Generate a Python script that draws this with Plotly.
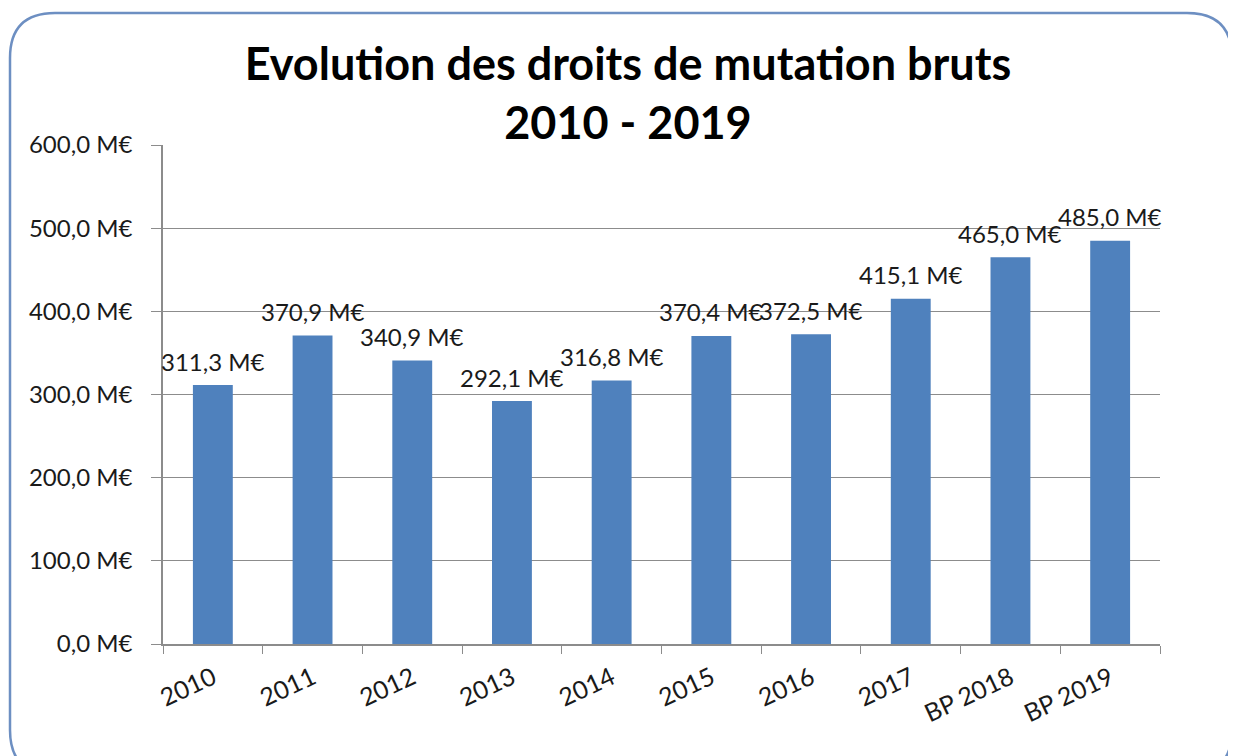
import plotly.graph_objects as go

categories = ["2010", "2011", "2012", "2013", "2014", "2015", "2016", "2017", "BP 2018", "BP 2019"]
values = [311.3, 370.9, 340.9, 292.1, 316.8, 370.4, 372.5, 415.1, 465.0, 485.0]
y_ticks = [0, 100, 200, 300, 400, 500, 600]
y_ticktext = [f"{v:.1f}".replace(".", ",") + " M€" for v in y_ticks]
value_labels = [f"{v:.1f}".replace(".", ",") + " M€" for v in values]

OFF = 8  # page body margin
W, H = 1236 - OFF, 756 - OFF
L, R, T, B = 163 - OFF, 1160 - OFF, 145 - OFF, 644 - OFF
pw, ph = R - L, B - T

def px(x):
    return (x - OFF - L) / pw

def py(y):
    return (B - (y - OFF)) / ph

FONT = "Lato, 'Open Sans', sans-serif"
TXT = "#1a1a1a"

fig = go.Figure(go.Bar(
    x=categories, y=values,
    marker=dict(color="#4F81BD", line=dict(width=0)),
    cliponaxis=False,
))

# value labels: on a category axis, annotation x is the category index
for i, (v, t) in enumerate(zip(values, value_labels)):
    fig.add_annotation(x=i, y=v, text=t, showarrow=False,
                       xanchor="center", yanchor="middle", yshift=24,
                       font=dict(family=FONT, size=24, color=TXT))

# rounded border box
x0, x1, y0, y1, r = px(10), px(1232), py(13), py(775), 45
rx, ry = r / pw, r / ph
path = (f"M {x0+rx},{y0} L {x1-rx},{y0} Q {x1},{y0} {x1},{y0-ry} "
        f"L {x1},{y1+ry} Q {x1},{y1} {x1-rx},{y1} L {x0+rx},{y1} "
        f"Q {x0},{y1} {x0},{y1+ry} L {x0},{y0-ry} Q {x0},{y0} {x0+rx},{y0} Z")
fig.add_shape(type="path", path=path, xref="paper", yref="paper",
              line=dict(color="#6D8FC2", width=2.5), layer="below")

fig.update_layout(
    width=W, height=H,
    margin=dict(l=L, r=W - R, t=T, b=H - B, autoexpand=False),
    paper_bgcolor="white", plot_bgcolor="white",
    bargap=0.6,
    showlegend=False,
    title=dict(text="<b>Evolution des droits de mutation bruts<br>2010 - 2019</b>",
               x=(628 - OFF) / W, xanchor="center",
               y=1 - (80 - OFF) / H, yanchor="middle", yref="container",
               font=dict(family=FONT, size=45, color="#000")),
    font=dict(family=FONT, size=24, color=TXT),
    xaxis=dict(type="category", categoryorder="array", categoryarray=categories,
               range=[-0.5, len(categories) - 0.5],
               showline=True, linecolor="#8c8c8c", linewidth=1.5,
               ticks="outside", tickson="boundaries", ticklen=8, tickcolor="#8c8c8c",
               tickangle=-25, ticklabelstandoff=8,
               tickfont=dict(family=FONT, size=25, color=TXT)),
    yaxis=dict(range=[0, 600], tickmode="array", tickvals=y_ticks, ticktext=y_ticktext,
               showline=True, linecolor="#8c8c8c", linewidth=1.5,
               ticks="outside", ticklen=10, tickcolor="#8c8c8c", ticklabelstandoff=14,
               showgrid=True, gridcolor="#8c8c8c", gridwidth=1,
               zeroline=False, tickfont=dict(family=FONT, size=24, color=TXT)),
)

fig.write_html("out.html")
